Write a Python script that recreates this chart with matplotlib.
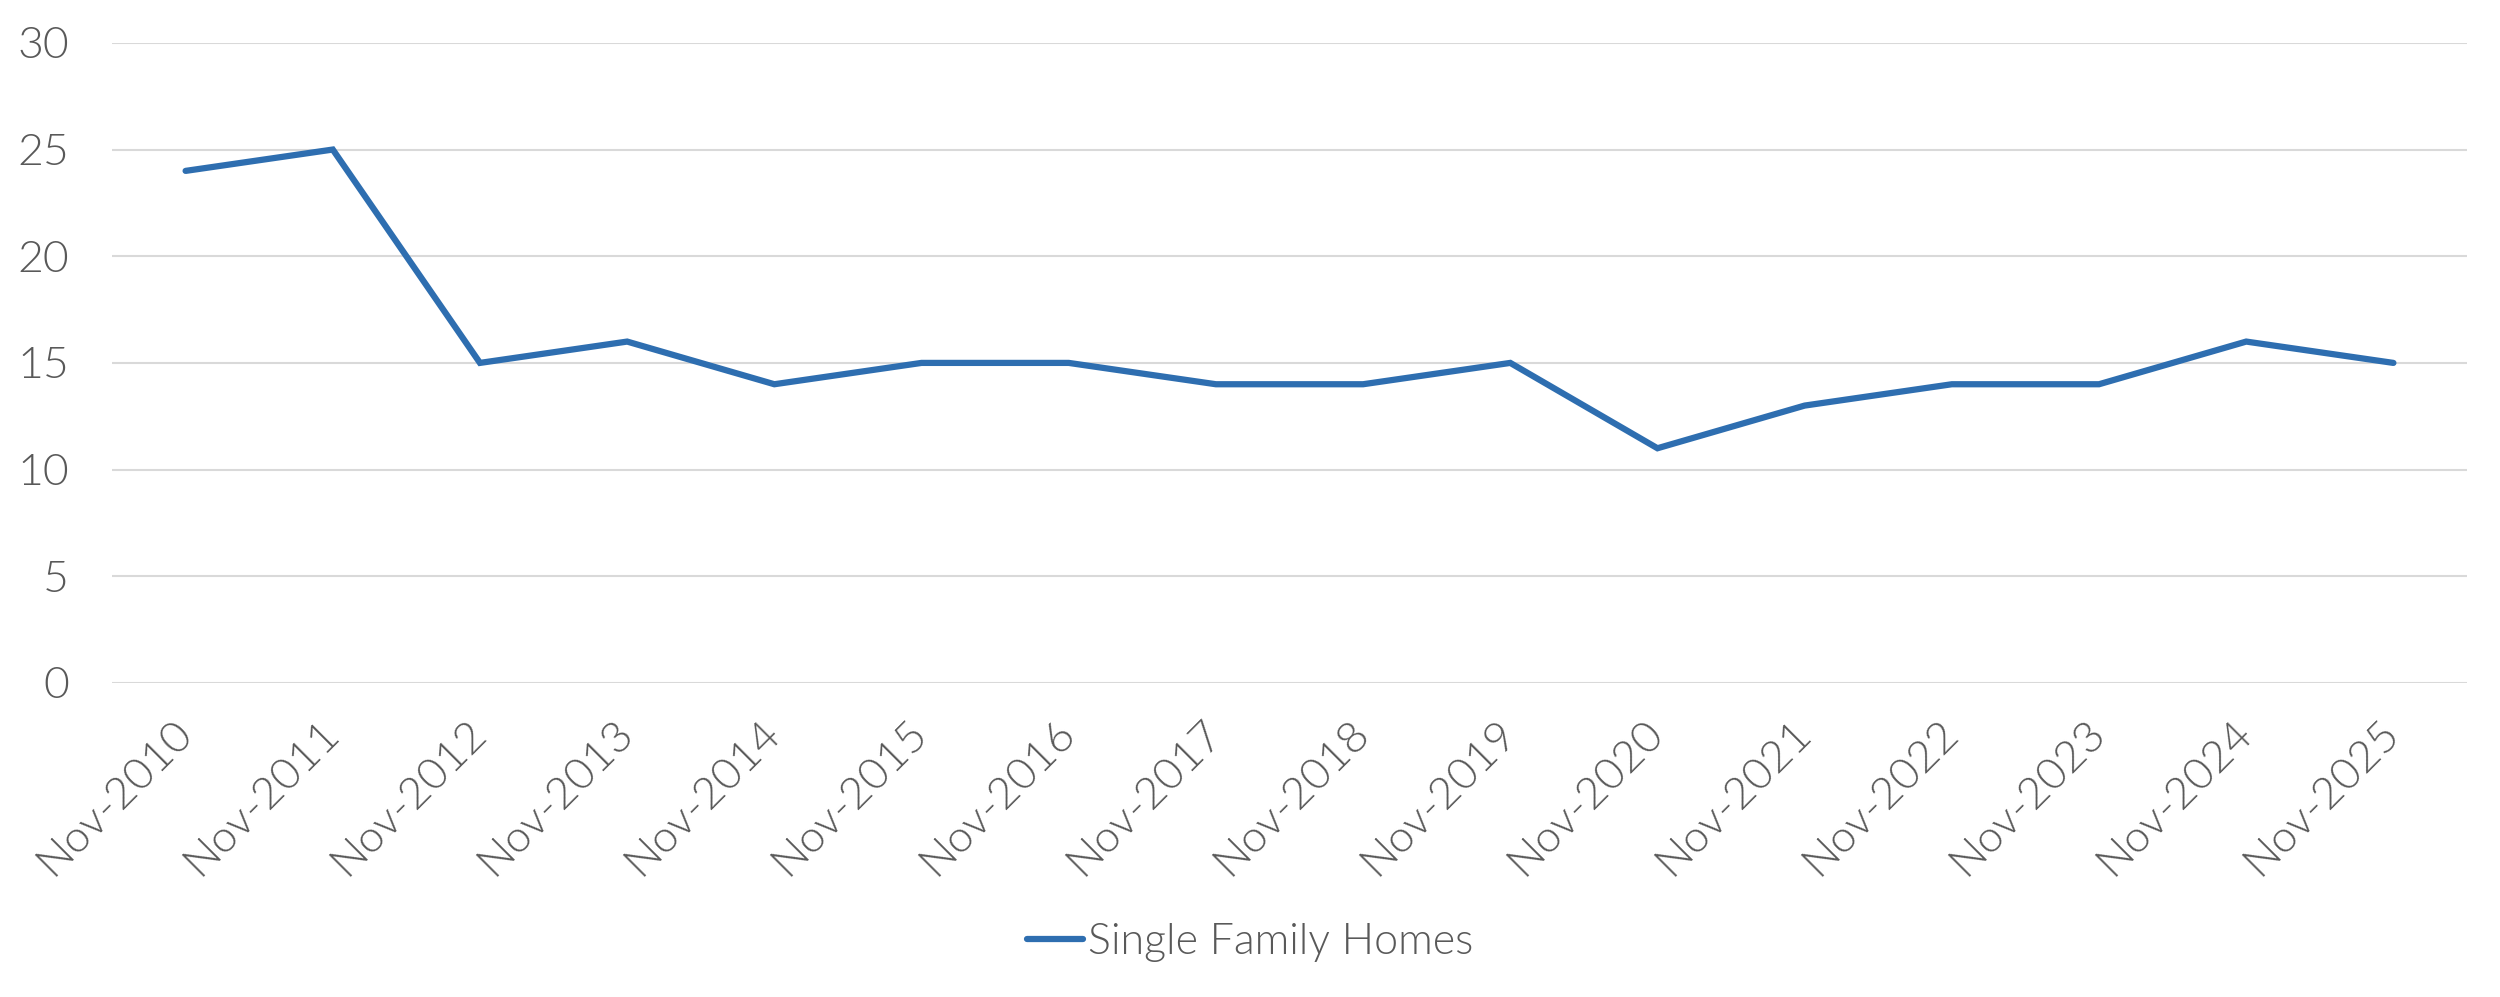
import matplotlib
matplotlib.use("Agg")
import matplotlib.pyplot as plt

# data
months = ["Nov-2010", "Nov-2011", "Nov-2012", "Nov-2013", "Nov-2014", "Nov-2015",
          "Nov-2016", "Nov-2017", "Nov-2018", "Nov-2019", "Nov-2020", "Nov-2021",
          "Nov-2022", "Nov-2023", "Nov-2024", "Nov-2025"]
single_family = [24, 25, 15, 16, 14, 15, 15, 14, 14, 15, 11, 13, 14, 14, 16, 15]
y_ticks = [0, 5, 10, 15, 20, 25, 30]

plt.rcParams['font.family'] = ['Lato', 'DejaVu Sans']
plt.rcParams['font.weight'] = 300

fig = plt.figure(figsize=(25, 9.97), dpi=100)
ax = fig.add_axes([0.0448, 0.315, 0.942, 0.642])

x = list(range(len(months)))
ax.plot(x, single_family, color='#2E6EB0', linewidth=4.5,
        solid_capstyle='round', solid_joinstyle='miter', label='Single Family Homes', zorder=3)

ax.set_xlim(-0.5, len(months) - 0.5)
ax.set_ylim(0, 30)
ax.set_yticks(y_ticks)
ax.set_xticks(x)
ax.set_xticklabels(months, rotation=45, ha='right', va='center', rotation_mode='anchor')

ax.grid(axis='y', color='#D9D9D9', linewidth=1.5)
ax.set_axisbelow(True)
for s in ax.spines.values():
    s.set_visible(False)
ax.tick_params(axis='both', length=0, colors='#595959', labelsize=32)
ax.tick_params(axis='y', pad=31)
ax.tick_params(axis='x', pad=32)

leg = fig.legend(handles=ax.get_lines(), loc='center', bbox_to_anchor=(0.5, 0.055),
                 frameon=False, fontsize=31, handlelength=1.3, handletextpad=0.1)
for t in leg.get_texts():
    t.set_color('#595959')

fig.savefig('out.png', dpi=100, facecolor='white')
